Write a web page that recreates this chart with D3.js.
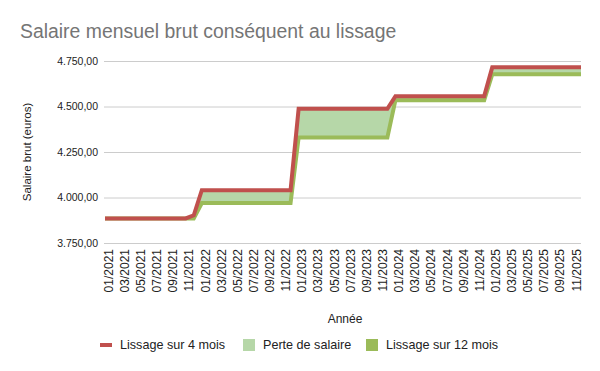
<!DOCTYPE html>
<html>
<head>
<meta charset="utf-8">
<script src="https://cdn.jsdelivr.net/npm/d3@7"></script>
<style>
  body { margin: 0; background: #fff; }
  text { font-family: "Liberation Sans", Arial, sans-serif; }
</style>
</head>
<body>
<div id="chart"></div>
<script>
// donnees (mensuel, 01/2021 -> 12/2025)
var months = ["01/2021","02/2021","03/2021","04/2021","05/2021","06/2021","07/2021","08/2021","09/2021","10/2021","11/2021","12/2021",
  "01/2022","02/2022","03/2022","04/2022","05/2022","06/2022","07/2022","08/2022","09/2022","10/2022","11/2022","12/2022",
  "01/2023","02/2023","03/2023","04/2023","05/2023","06/2023","07/2023","08/2023","09/2023","10/2023","11/2023","12/2023",
  "01/2024","02/2024","03/2024","04/2024","05/2024","06/2024","07/2024","08/2024","09/2024","10/2024","11/2024","12/2024",
  "01/2025","02/2025","03/2025","04/2025","05/2025","06/2025","07/2025","08/2025","09/2025","10/2025","11/2025","12/2025"];

var lissage4 = [3885,3885,3885,3885,3885,3885,3885,3885,3885,3885,3885,3902,
  4040,4040,4040,4040,4040,4040,4040,4040,4040,4040,4040,4040,
  4487,4487,4487,4487,4487,4487,4487,4487,4487,4487,4487,4487,
  4557,4557,4557,4557,4557,4557,4557,4557,4557,4557,4557,4557,
  4715,4715,4715,4715,4715,4715,4715,4715,4715,4715,4715,4715];

var lissage12 = [3885,3885,3885,3885,3885,3885,3885,3885,3885,3885,3885,3885,
  3970,3970,3970,3970,3970,3970,3970,3970,3970,3970,3970,3970,
  4330,4330,4330,4330,4330,4330,4330,4330,4330,4330,4330,4330,
  4535,4535,4535,4535,4535,4535,4535,4535,4535,4535,4535,4535,
  4677,4677,4677,4677,4677,4677,4677,4677,4677,4677,4677,4677];

var yTicks = [3750, 4000, 4250, 4500, 4750];
var legendLabels = ["Lissage sur 4 mois", "Perte de salaire", "Lissage sur 12 mois"];

var width = 600, height = 371;
var plot = {left: 104, right: 581, top: 61, bottom: 243};

var svg = d3.select("#chart").append("svg")
    .attr("width", width)
    .attr("height", height);

var x = d3.scalePoint()
    .domain(months)
    .range([plot.left + 1, plot.right]);

var y = d3.scaleLinear()
    .domain([3750, 4750])
    .range([plot.bottom, plot.top]);

// format francais 4.750,00
var fr = d3.formatLocale({decimal: ",", thousands: ".", grouping: [3], currency: ["", " €"]});
var fmt = fr.format(",.2f");

// titre
svg.append("text")
    .attr("x", 20).attr("y", 38)
    .attr("font-size", "19.4px")
    .attr("fill", "#757575")
    .text("Salaire mensuel brut conséquent au lissage");

// grille + axe y
var yAxis = svg.append("g")
    .attr("transform", "translate(" + plot.left + ",0)")
    .call(d3.axisLeft(y).tickValues(yTicks).tickSize(-(plot.right - plot.left)).tickFormat(fmt).tickPadding(6));
yAxis.select(".domain").remove();
yAxis.selectAll(".tick line").attr("stroke", "#cccccc");
yAxis.selectAll(".tick text").attr("font-size", "10.5px").attr("fill", "#222");

// axe x : une etiquette sur deux
var xAxis = svg.append("g")
    .attr("transform", "translate(0," + plot.bottom + ")")
    .call(d3.axisBottom(x).tickValues(months.filter(function(d, i) { return i % 2 === 0; })).tickSize(0));
xAxis.select(".domain").remove();
xAxis.selectAll(".tick text")
    .attr("font-size", "12px")
    .attr("fill", "#222")
    .attr("text-anchor", "end")
    .attr("transform", "rotate(-90)")
    .attr("x", -6)
    .attr("y", 3)
    .attr("dy", "0.35em");

// zone perte de salaire
var area = d3.area()
    .x(function(d, i) { return x(months[i]); })
    .y0(function(d, i) { return y(lissage12[i]); })
    .y1(function(d, i) { return y(lissage4[i]); });

svg.append("path")
    .datum(lissage4)
    .attr("d", area)
    .attr("fill", "#b6d7a8");

var line = d3.line()
    .x(function(d, i) { return x(months[i]); })
    .y(function(d) { return y(d); });

svg.append("path")
    .datum(lissage12)
    .attr("d", line)
    .attr("fill", "none")
    .attr("stroke", "#9bbb59")
    .attr("stroke-width", 4);

svg.append("path")
    .datum(lissage4)
    .attr("d", line)
    .attr("fill", "none")
    .attr("stroke", "#c0504d")
    .attr("stroke-width", 4);

// titres d'axes
svg.append("text")
    .attr("transform", "translate(31," + ((plot.top + plot.bottom) / 2) + ") rotate(-90)")
    .attr("text-anchor", "middle")
    .attr("font-size", "11.5px")
    .attr("fill", "#222")
    .text("Salaire brut (euros)");

svg.append("text")
    .attr("x", 345).attr("y", 323)
    .attr("text-anchor", "middle")
    .attr("font-size", "12px")
    .attr("fill", "#222")
    .text("Année");

// legende
var legendX = [100, 243, 366];
var legendColors = ["#c0504d", "#b6d7a8", "#9bbb59"];
var legend = svg.append("g");
legendLabels.forEach(function(lab, i) {
  if (i === 0) {
    legend.append("rect").attr("x", legendX[i]).attr("y", 343).attr("width", 12).attr("height", 4).attr("fill", legendColors[i]);
  } else {
    legend.append("rect").attr("x", legendX[i]).attr("y", 339).attr("width", 12).attr("height", 12).attr("fill", legendColors[i]);
  }
  legend.append("text")
      .attr("x", legendX[i] + 20).attr("y", 349)
      .attr("font-size", "12.6px")
      .attr("fill", "#222")
      .text(lab);
});
</script>
</body>
</html>
